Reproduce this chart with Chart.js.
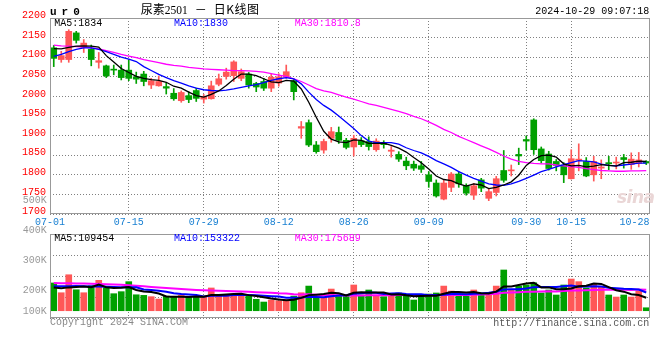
<!DOCTYPE html>
<html><head><meta charset="utf-8">
<script src="https://cdn.jsdelivr.net/npm/chart.js@4.4.1/dist/chart.umd.min.js"></script>
<style>
html,body{margin:0;padding:0;background:#fff}
body{width:660px;height:360px;position:relative;overflow:hidden}
.w{position:absolute;left:0;width:660px}
.t{position:absolute;font-family:"Liberation Mono",monospace;font-size:10px;line-height:10px;white-space:pre}
.cjk{font-family:"Noto Sans CJK SC",sans-serif;font-size:12px}
.ser{font-family:"Liberation Serif",serif;font-size:11.5px}
</style></head><body>
<div class="w" style="top:0;height:232px"><canvas id="c1"></canvas></div>
<div class="w" style="top:225px;height:110px"><canvas id="c2"></canvas></div>

<div class="t" style="left:50px;top:6.5px;font-size:11px;line-height:11px;font-weight:bold;letter-spacing:5px">ur0</div>
<div class="t" style="left:140.7px;top:2.5px;line-height:12px;color:#000"><span class="cjk">尿素</span><span class="ser">2501</span><span class="cjk" style="margin-left:7px">－</span><span class="cjk" style="margin-left:7px;letter-spacing:0.5px">日K线图</span></div>
<div class="t" style="right:10.7px;top:6.6px;color:#000">2024-10-29 09:07:18</div>

<div class="t" style="left:54.3px;top:19.3px;color:#000">MA5:1834</div>
<div class="t" style="left:174px;top:19.3px;color:#0000ff">MA10:1830</div>
<div class="t" style="left:294.7px;top:19.3px;color:#ff00ff">MA30:1810.8</div>

<div class="t" style="right:613.3px;top:196.1px;color:#999">500K</div>
<div class="t" style="left:617px;top:189px;font-family:'DejaVu Sans';font-size:17px;line-height:17px;font-style:italic;font-weight:bold;color:#ead6d6;letter-spacing:-0.5px">sina</div>

<div id="volLabels"></div>
<div class="t" style="left:54.3px;top:234.3px;color:#000">MA5:109454</div>
<div class="t" style="left:174px;top:234.3px;color:#0000ff">MA10:153322</div>
<div class="t" style="left:294.7px;top:234.3px;color:#ff00ff">MA30:175689</div>

<div class="t" style="left:50px;top:318.2px;color:#888">Copyright 2024 SINA.COM</div>
<div class="t" style="right:10.7px;top:318.5px;color:#555">http://finance.sina.com.cn</div>

<script>
// ---------- data ----------
const dates = ['07-01','07-02','07-03','07-04','07-05','07-08','07-09','07-10','07-11','07-12',
 '07-15','07-16','07-17','07-18','07-19','07-22','07-23','07-24','07-25','07-26',
 '07-29','07-30','07-31','08-01','08-02','08-05','08-06','08-07','08-08','08-09',
 '08-12','08-13','08-14','08-15','08-16','08-19','08-20','08-21','08-22','08-23',
 '08-26','08-27','08-28','08-29','08-30','09-02','09-03','09-04','09-05','09-06',
 '09-09','09-10','09-11','09-12','09-13','09-18','09-19','09-20','09-23','09-24',
 '09-25','09-26','09-27','09-30','10-08','10-09','10-10','10-11','10-14','10-15',
 '10-16','10-17','10-18','10-21','10-22','10-23','10-24','10-25','10-28','10-29'];

const open = [2124,2094,2094,2162,2125,2120,2087,2078,2069,2067, 2067,2050,2057,2029,2027,2025,2008,1989,2002,2015,
 1993,1994,2031,2051,2053,2046,2057,2033,2038,2021, 2034,2049,2040,1919,1933,1876,1863,1893,1908,1888,
 1871,1887,1885,1864,1882,1860,1852,1835,1827,1823, 1800,1779,1738,1768,1802,1772,1748,1787,1740,1755,
 1811,1810,1852,1890,1940,1866,1853,1834,1825,1790, 1837,1834,1800,1817,1831,1830,1844,1826,1829,1834];
const high = [2130,2115,2170,2166,2145,2131,2112,2080,2080,2080, 2094,2062,2064,2046,2052,2034,2020,2014,2012,2021,
 2005,2039,2057,2072,2091,2070,2061,2036,2046,2057, 2058,2080,2044,1936,1940,1885,1891,1921,1922,1893,
 1901,1895,1897,1892,1887,1872,1859,1845,1835,1834, 1808,1787,1787,1806,1808,1777,1778,1791,1763,1796,
 1862,1825,1868,1899,1943,1871,1860,1839,1831,1864, 1879,1844,1847,1838,1847,1845,1852,1856,1857,1836];
const low = [2076,2087,2087,2136,2112,2078,2072,2048,2055,2042, 2040,2033,2027,2020,2026,2006,1990,1985,1984,1987,
 1983,1993,2027,2044,2038,2040,2021,2012,2015,2012, 2026,2046,1991,1893,1872,1855,1855,1883,1880,1866,
 1848,1872,1863,1860,1868,1845,1834,1813,1811,1806, 1768,1743,1736,1757,1768,1748,1737,1757,1734,1746,
 1781,1797,1826,1863,1852,1830,1812,1810,1780,1789, 1810,1795,1784,1790,1813,1815,1817,1814,1820,1826];
const close = [2097,2104,2166,2143,2136,2094,2091,2052,2067,2048, 2046,2044,2038,2040,2038,2021,1994,2010,1992,1995,
 1999,2027,2045,2062,2088,2063,2029,2024,2021,2049, 2050,2063,2012,1923,1876,1859,1885,1910,1888,1870,
 1893,1877,1872,1886,1877,1863,1840,1823,1817,1814, 1783,1746,1779,1802,1777,1753,1772,1766,1757,1790,
 1786,1812,1848,1886,1864,1836,1816,1824,1800,1841, 1840,1797,1834,1820,1828,1832,1839,1840,1838,1830];

const ma5 = [2122,2121,2125,2128,2129,2128,2126,2104,2088,2071, 2061,2051,2046,2043,2041,2036,2026,2021,2011,2002,
 1998,2005,2014,2028,2044,2057,2057,2053,2045,2037, 2035,2041,2039,2019,1985,1947,1911,1891,1884,1882,
 1889,1888,1880,1880,1881,1875,1868,1858,1844,1831, 1815,1797,1788,1785,1777,1771,1777,1774,1765,1768,
 1774,1782,1799,1824,1839,1849,1850,1845,1828,1823, 1824,1820,1822,1826,1824,1822,1831,1832,1835,1834];
const ma10 = [2102,2107,2114,2120,2124,2124,2120,2114,2107,2100, 2095,2089,2076,2066,2056,2048,2040,2034,2027,2021,
 2017,2015,2014,2016,2019,2023,2027,2030,2035,2041, 2045,2048,2045,2032,2011,1992,1977,1965,1950,1934,
 1918,1900,1886,1882,1882,1882,1878,1869,1862,1856, 1847,1836,1828,1819,1808,1799,1791,1784,1777,1774,
 1773,1777,1783,1791,1799,1808,1814,1820,1826,1831, 1836,1835,1833,1827,1824,1823,1825,1827,1830,1830];
const ma30 = [2131,2129,2128,2127,2126,2124,2121,2117,2112,2107, 2103,2099,2094,2090,2086,2082,2079,2077,2074,2072,
 2070,2069,2068,2067,2066,2066,2065,2064,2062,2058, 2054,2051,2045,2038,2029,2020,2014,2010,2004,1998,
 1993,1987,1981,1977,1972,1967,1962,1956,1949,1943, 1935,1926,1916,1908,1898,1890,1882,1874,1866,1857,
 1848,1840,1834,1831,1829,1828,1828,1825,1823,1821, 1819,1816,1813,1811,1810,1809,1809,1810,1810,1810.8];

// volume in thousands (K)
const volume = [233,151,302,176,151,210,255,191,143,160, 244,134,129,118,98,123,118,129,113,118,
 113,191,132,129,140,123,132,96,73,90, 84,90,123,151,207,104,113,182,123,123,
 216,132,174,123,118,132,149,123,90,123, 140,149,207,165,123,123,174,149,149,207,
 342,174,207,216,235,149,174,132,216,266, 244,191,224,199,132,115,132,115,165,25];
const volMa5 = [195,188,196,200,203,198,219,197,190,192, 199,174,162,157,145,120,117,117,116,120,
 118,133,133,137,141,143,131,124,113,103, 95,87,92,108,131,135,140,151,146,129,
 151,155,154,154,153,136,139,129,122,123, 125,125,142,157,157,153,158,147,144,160,
 204,204,216,229,235,196,196,181,181,187, 206,210,228,225,198,172,160,139,132,109.5];
const volMa10 = [206,205,206,207,206,204,203,201,199,197, 198,197,179,174,168,160,146,140,137,132,
 119,125,125,126,131,131,132,129,125,122, 119,109,108,110,117,115,113,122,127,130,
 143,147,153,150,141,144,147,141,138,138, 130,132,135,140,140,139,142,144,150,159,
 179,181,181,186,198,200,200,199,205,211, 201,203,205,203,193,189,185,183,178,153.3];
const volMa30 = [232,231,230,229,228,226,224,222,220,218, 214,210,205,200,195,190,186,182,178,175,
 172,170,168,166,164,162,159,156,153,151, 146,144,138,137,139,135,130,130,129,128,
 127,127,129,129,129,130,131,131,130,130, 131,130,132,133,133,133,134,136,138,142,
 151,154,156,159,160,161,163,161,165,169, 170,172,174,176,177,176,176,175,178,175.7];

const xTickLabels = ['07-01','07-15','07-29','08-12','08-26','09-09','09-30','10-15','10-28'];
const priceTicks = [1700,1750,1800,1850,1900,1950,2000,2050,2100,2150,2200];
const volTickLabels = ['400K','300K','200K','100K'];

// ---------- styling ----------
const RED = '#ff5757', GREEN = '#00a000', GRID = '#808080';
const MONO = 'Liberation Mono';
const candleColors = close.map((c, i) => c >= open[i] ? RED : GREEN);
const gridIdx = new Set(xTickLabels.slice(1, -1).map(l => dates.indexOf(l)));
const xGridColor = ctx => gridIdx.has(ctx.index) ? GRID : 'rgba(0,0,0,0)';

// volume axis labels (text)
(function(){
  const tops = [225.9, 255.6, 286.4, 306.6];
  const box = document.getElementById('volLabels');
  volTickLabels.forEach((l, k) => {
    const d = document.createElement('div');
    d.className = 't'; d.textContent = l;
    d.style.right = '613.3px'; d.style.top = tops[k] + 'px'; d.style.color = '#999';
    box.appendChild(d);
  });
})();

const frame = {
  id: 'frame',
  afterDraw(chart) {
    const { ctx, chartArea: a } = chart;
    ctx.save();
    ctx.strokeStyle = '#999'; ctx.lineWidth = 1;
    const l = Math.round(a.left) + 0.5, r = Math.round(a.right) - 0.5;
    const t = Math.round(a.top) + 0.5, b = Math.round(a.bottom) - 0.5;
    ctx.strokeRect(l, t, r - l, b - t);
    ctx.restore();
  }
};

const xLabels = {
  id: 'xLabels',
  afterDraw(chart) {
    const { ctx, chartArea: a, scales: { x } } = chart;
    ctx.save();
    ctx.font = '10px "' + MONO + '"';
    ctx.fillStyle = '#1a80d2';
    ctx.textBaseline = 'alphabetic';
    xTickLabels.forEach((lab, k) => {
      let px = x.getPixelForValue(dates.indexOf(lab)), align = 'center';
      if (k === 0) px = a.left;
      if (k === xTickLabels.length - 1) { px = a.right - 0.5; align = 'right'; }
      ctx.textAlign = align;
      ctx.fillText(lab, px, 225);
    });
    ctx.restore();
  }
};

const common = {
  responsive: true, maintainAspectRatio: false, animation: false, events: [],
  devicePixelRatio: 1,
  plugins: { legend: { display: false }, tooltip: { enabled: false } }
};

const xScale = (h) => ({
  type: 'category', offset: true,
  grid: { offset: false, color: xGridColor, drawTicks: false, lineWidth: 1 },
  border: { display: false, dash: [1, 2] },
  ticks: { display: false, autoSkip: false },
  afterFit(s) { s.height = h; }
});

const lineDs = (data, color, w, order) => ({
  type: 'line', data, borderColor: color, borderWidth: w, pointRadius: 0,
  tension: 0, fill: false, order
});

new Chart(document.getElementById('c1'), {
  type: 'bar',
  data: {
    labels: dates,
    datasets: [
      { data: low.map((l, i) => [l, high[i]]), backgroundColor: candleColors,
        barThickness: 1, grouped: false, order: 5 },
      { data: open.map((o, i) => [o, close[i]]), backgroundColor: candleColors,
        barThickness: 6, grouped: false, minBarLength: 1, order: 4 },
      lineDs(ma30, '#ff00ff', 1.3, 2),
      lineDs(ma10, '#0000ff', 1.3, 1),
      lineDs(ma5, '#000000', 1.3, 0)
    ]
  },
  options: {
    ...common,
    layout: { padding: { top: 18, right: 10, left: 0, bottom: 0 } },
    scales: {
      x: xScale(18),
      y: {
        type: 'linear', min: 1700, max: 2200,
        afterBuildTicks(s) { s.ticks = priceTicks.map(v => ({ value: v })); },
        ticks: { color: '#ff0000', font: { family: MONO, size: 10 }, padding: 4,
                 labelOffset: -2.5, callback: v => String(v) },
        grid: { color: GRID, drawTicks: false },
        border: { display: false, dash: [1, 2] },
        afterFit(s) { s.width = 50; }
      }
    }
  },
  plugins: [frame, xLabels]
});

const VMIN = -61, VMAX = 644;
new Chart(document.getElementById('c2'), {
  type: 'bar',
  data: {
    labels: dates,
    datasets: [
      { data: volume, backgroundColor: candleColors, barThickness: 6, grouped: false, order: 4 },
      lineDs(volMa30, '#ff00ff', 2, 2),
      lineDs(volMa10, '#0000ff', 2, 1),
      lineDs(volMa5, '#000000', 2, 0)
    ]
  },
  options: {
    ...common,
    layout: { padding: { top: 9, right: 10, left: 0, bottom: 17 } },
    scales: {
      x: xScale(0),
      y: {
        type: 'linear', min: VMIN, max: VMAX,
        afterBuildTicks(s) { s.ticks = [0, 1, 2, 3, 4].map(k => ({ value: VMIN + k * (VMAX - VMIN) / 4 })); },
        ticks: { display: false },
        grid: { color: GRID, drawTicks: false },
        border: { display: false, dash: [1, 2] },
        afterFit(s) { s.width = 50; }
      }
    }
  },
  plugins: [frame]
});
</script>
</body></html>
